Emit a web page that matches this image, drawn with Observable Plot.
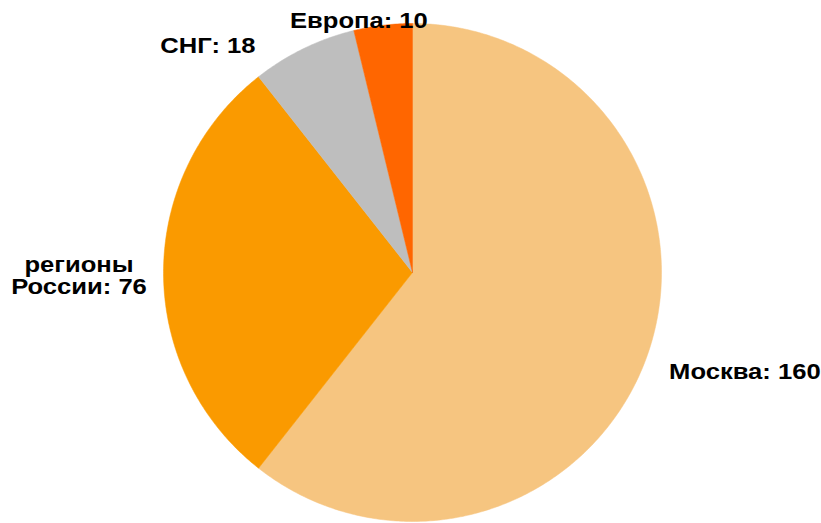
<!DOCTYPE html>
<html>
<head>
<meta charset="utf-8">
<script src="https://cdn.jsdelivr.net/npm/d3@7"></script>
<script src="https://cdn.jsdelivr.net/npm/@observablehq/plot@0.6"></script>
<style>
  html, body { margin: 0; padding: 0; background: #fff; }
  #chart { width: 821px; height: 523px; }
</style>
</head>
<body>
<div id="chart"></div>
<script>
const categories = ["Москва", "регионы России", "СНГ", "Европа"];
const values = [160, 76, 18, 10];
const labels = ["Москва: 160", "регионы\nРоссии: 76", "СНГ: 18", "Европа: 10"];
const colors = ["#F6C580", "#FA9A00", "#BEBEBE", "#FF6600"];

const W = 821, H = 523;
const cx = 412, cy = 272, R = 249, LR = 262;

const pie = d3.pie().sort(null).value(d => d.value);
const rows = categories.map((c, i) => ({name: c, value: values[i], label: labels[i]}));
const arcs = pie(rows);

// polygon points for each slice (angles: 0 at top, clockwise)
const pts = [];
arcs.forEach(a => {
  const n = Math.max(2, Math.ceil((a.endAngle - a.startAngle) / 0.01));
  pts.push({name: a.data.name, x: cx, y: cy});
  for (let k = 0; k <= n; k++) {
    const t = a.startAngle + (a.endAngle - a.startAngle) * k / n;
    pts.push({name: a.data.name, x: cx + R * Math.sin(t), y: cy - R * Math.cos(t)});
  }
  pts.push({name: a.data.name, x: cx, y: cy});
});

const lab = arcs.map(a => {
  const m = (a.startAngle + a.endAngle) / 2;
  return {name: a.data.name, label: a.data.label, x: cx + LR * Math.sin(m), y: cy - LR * Math.cos(m)};
});
const pick = n => lab.filter(d => d.name === n);

const font = {fontFamily: "'Liberation Sans', Arial, sans-serif", fontWeight: "bold", fontSize: 21.5, fill: "#000"};

const chart = Plot.plot({
  width: W, height: H,
  margin: 0,
  x: {domain: [0, W], range: [0, W], axis: null},
  y: {domain: [0, H], range: [0, H], axis: null},
  color: {domain: categories, range: colors},
  marks: [
    Plot.line(pts, {x: "x", y: "y", z: "name", fill: "name", stroke: "name", strokeWidth: 0.5, curve: "linear"}),
    Plot.text(pick("Москва"), {x: "x", y: "y", text: "label", textAnchor: "start", dx: 9, dy: 13.5, ...font}),
    Plot.text(pick("регионы России"), {x: "x", y: "y", text: "label", textAnchor: "middle", dx: -71.5, dy: 3, lineHeight: 1.03, ...font}),
    Plot.text(pick("СНГ"), {x: "x", y: "y", text: "label", textAnchor: "end", dx: -42.5, dy: 9.5, ...font}),
    Plot.text(pick("Европа"), {x: "x", y: "y", text: "label", textAnchor: "middle", dx: -22.5, dy: 9, ...font})
  ]
});

// the reference glyphs are horizontally widened: stretch each label about its anchor
d3.select(chart).selectAll("text").each(function() {
  const el = d3.select(this);
  let tr = el.attr("transform") || "";
  const x = el.attr("x");
  if (x != null && isFinite(+x)) {
    tr = `translate(${+x},0) ` + tr;
    el.attr("x", null);
  }
  el.attr("transform", tr + " scale(1.19,1)");
});

document.getElementById("chart").appendChild(chart);
</script>
</body>
</html>
